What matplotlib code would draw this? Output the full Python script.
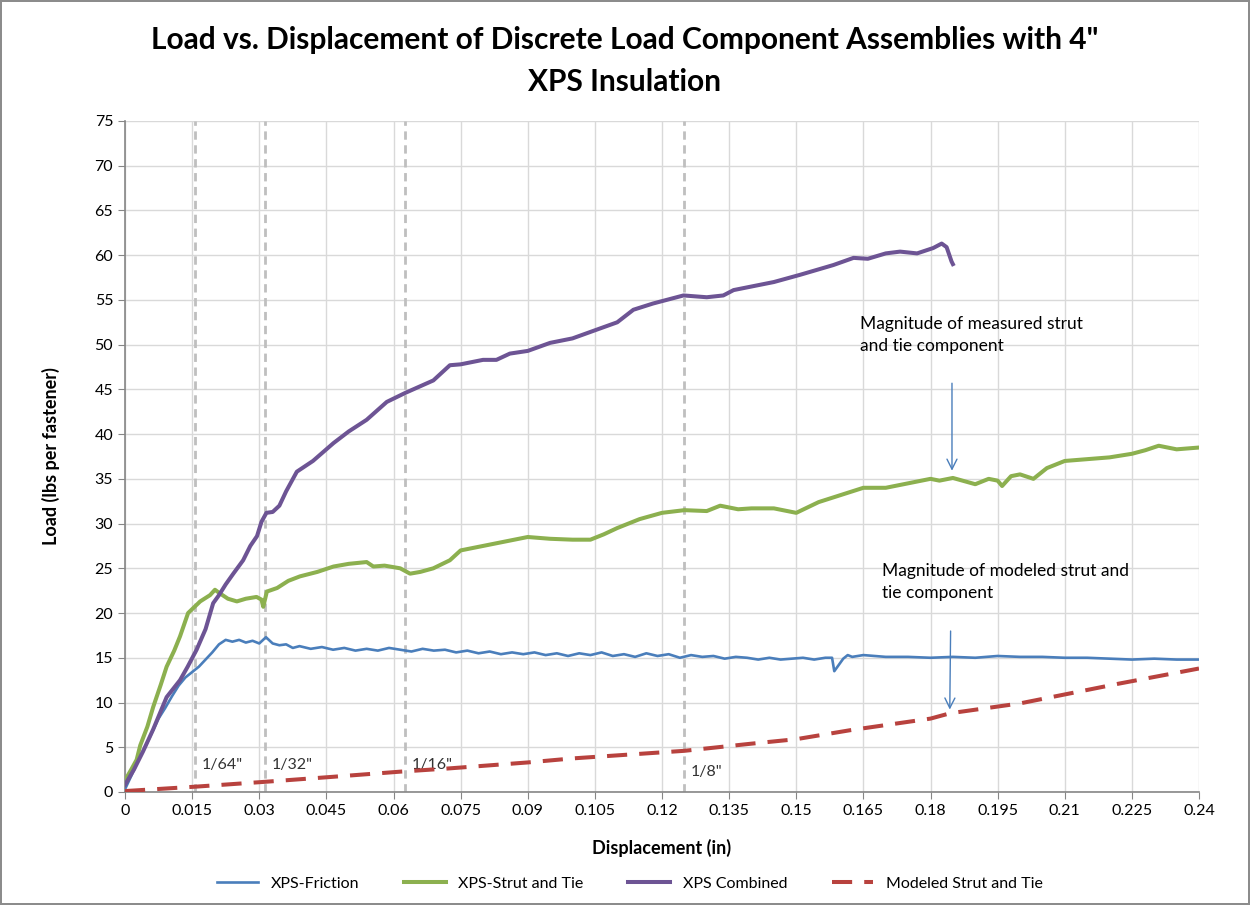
import matplotlib
matplotlib.use("Agg")
import matplotlib.pyplot as plt

plt.rcParams['font.family'] = ['Lato', 'DejaVu Sans']

# XPS-Friction
fric_x = [0, 0.0015, 0.003, 0.0045, 0.006, 0.0075, 0.009, 0.0105, 0.012, 0.0135,
          0.015, 0.0165, 0.018, 0.0195, 0.021, 0.0225, 0.024, 0.0255, 0.027, 0.0285,
          0.030, 0.0315, 0.033, 0.0345, 0.036, 0.0375, 0.039, 0.0415, 0.044, 0.0465,
          0.049, 0.0515, 0.054, 0.0565, 0.059, 0.0615, 0.064, 0.0665, 0.069, 0.0715,
          0.074, 0.0765, 0.079, 0.0815, 0.084, 0.0865, 0.089, 0.0915, 0.094, 0.0965,
          0.099, 0.1015, 0.104, 0.1065, 0.109, 0.1115, 0.114, 0.1165, 0.119, 0.1215,
          0.124, 0.1265, 0.129, 0.1315, 0.134, 0.1365, 0.139, 0.1415, 0.144, 0.1465,
          0.149, 0.1515, 0.154, 0.1565, 0.158, 0.1585, 0.1595, 0.1605, 0.1615, 0.1625,
          0.165, 0.17, 0.175, 0.18, 0.185, 0.19, 0.195, 0.2, 0.205, 0.21, 0.215, 0.22,
          0.225, 0.23, 0.235, 0.24]
fric_y = [0.3, 1.9, 3.6, 5.0, 6.6, 8.2, 9.4, 10.7, 11.9, 12.8,
          13.4, 14.0, 14.8, 15.6, 16.5, 17.0, 16.8, 17.0, 16.7, 16.9,
          16.6, 17.3, 16.6, 16.4, 16.5, 16.1, 16.3, 16.0, 16.2, 15.9,
          16.1, 15.8, 16.0, 15.8, 16.1, 15.9, 15.7, 16.0, 15.8, 15.9,
          15.6, 15.8, 15.5, 15.7, 15.4, 15.6, 15.4, 15.6, 15.3, 15.5,
          15.2, 15.5, 15.3, 15.6, 15.2, 15.4, 15.1, 15.5, 15.2, 15.4,
          15.0, 15.3, 15.1, 15.2, 14.9, 15.1, 15.0, 14.8, 15.0, 14.8,
          14.9, 15.0, 14.8, 15.0, 15.0, 13.5, 14.2, 14.9, 15.3, 15.1,
          15.3, 15.1, 15.1, 15.0, 15.1, 15.0, 15.2, 15.1, 15.1, 15.0, 15.0, 14.9,
          14.8, 14.9, 14.8, 14.8]

# XPS-Strut and Tie
strut_x = [0, 0.0015, 0.0026, 0.0034, 0.005, 0.0063, 0.008, 0.0093, 0.011, 0.0123,
           0.0141, 0.0168, 0.019, 0.0201, 0.0212, 0.023, 0.025, 0.027, 0.0294, 0.0305,
           0.0309, 0.0317, 0.034, 0.0365, 0.0391, 0.043, 0.0466, 0.05, 0.054, 0.0555,
           0.058, 0.0615, 0.0637, 0.066, 0.0689, 0.0726, 0.075, 0.08, 0.085, 0.09,
           0.095, 0.1, 0.104, 0.107, 0.11, 0.115, 0.12, 0.125, 0.13, 0.133,
           0.137, 0.14, 0.145, 0.15, 0.155, 0.16, 0.165, 0.17, 0.175, 0.18,
           0.182, 0.185, 0.19, 0.193, 0.195, 0.196, 0.198, 0.2, 0.203, 0.206,
           0.21, 0.215, 0.22, 0.225, 0.228, 0.231, 0.235, 0.24]
strut_y = [1.3, 2.6, 3.6, 5.2, 7.3, 9.5, 12.0, 14.0, 15.8, 17.4,
           20.0, 21.3, 22.0, 22.6, 22.2, 21.6, 21.3, 21.6, 21.8, 21.5,
           20.7, 22.4, 22.8, 23.6, 24.1, 24.6, 25.2, 25.5, 25.7, 25.2,
           25.3, 25.0, 24.4, 24.6, 25.0, 25.9, 27.0, 27.5, 28.0, 28.5,
           28.3, 28.2, 28.2, 28.8, 29.5, 30.5, 31.2, 31.5, 31.4, 32.0,
           31.6, 31.7, 31.7, 31.2, 32.4, 33.2, 34.0, 34.0, 34.5, 35.0,
           34.8, 35.1, 34.4, 35.0, 34.8, 34.2, 35.3, 35.5, 35.0, 36.2,
           37.0, 37.2, 37.4, 37.8, 38.2, 38.7, 38.3, 38.5]

# XPS Combined
comb_x = [0, 0.002, 0.004, 0.0063, 0.0093, 0.0123, 0.014, 0.016, 0.018, 0.0197,
          0.021, 0.0225, 0.0242, 0.0264, 0.028, 0.0295, 0.0305, 0.0316, 0.033, 0.0345,
          0.036, 0.0384, 0.042, 0.0466, 0.05, 0.054, 0.0585, 0.0626, 0.0689, 0.0726,
          0.075, 0.08, 0.083, 0.086, 0.09, 0.095, 0.1, 0.1061, 0.11, 0.1136,
          0.118, 0.1248, 0.13, 0.1337, 0.136, 0.14, 0.145, 0.1508, 0.1583, 0.1628,
          0.166, 0.17, 0.1732, 0.177, 0.1806, 0.1825, 0.1836, 0.1847, 0.185]
comb_y = [0.8, 2.5, 4.5, 7.0, 10.6, 12.5, 14.0, 15.9, 18.2, 21.1,
          22.0, 23.2, 24.4, 25.9, 27.5, 28.6, 30.2, 31.2, 31.3, 32.0,
          33.6, 35.8, 37.0, 39.0, 40.3, 41.6, 43.6, 44.6, 46.0, 47.7,
          47.8, 48.3, 48.3, 49.0, 49.3, 50.2, 50.7, 51.8, 52.5, 53.9,
          54.6, 55.5, 55.3, 55.5, 56.1, 56.5, 57.0, 57.8, 58.9, 59.7,
          59.6, 60.2, 60.4, 60.2, 60.8, 61.3, 60.9, 59.3, 59.0]

# Modeled Strut and Tie
model_x = [0, 0.016, 0.0317, 0.0466, 0.0615, 0.0726, 0.09, 0.1, 0.125, 0.14,
           0.15, 0.162, 0.18, 0.1844, 0.2, 0.222, 0.24]
model_y = [0.1, 0.6, 1.15, 1.7, 2.27, 2.64, 3.3, 3.75, 4.6, 5.4,
           5.9, 6.9, 8.2, 8.8, 9.9, 12.1, 13.8]

fraction_x = [1 / 64, 1 / 32, 1 / 16, 1 / 8]
fraction_labels = ['1/64"', '1/32"', '1/16"', '1/8"']
fraction_label_y = [3.0, 3.0, 3.0, 2.2]

x_ticks = [i * 0.015 for i in range(17)]
y_ticks = list(range(0, 80, 5))

fig = plt.figure(figsize=(12.5, 9.05), dpi=100)
fig.patch.set_edgecolor('#8c8c8c')
fig.patch.set_linewidth(1.5)
ax = fig.add_axes([0.1, 0.1249, 0.8592, 0.7414])

for xv, lab, ly in zip(fraction_x, fraction_labels, fraction_label_y):
    ax.axvline(xv, color='#bfbfbf', lw=2, ls=(0, (3, 2)), zorder=1)
    ax.text(xv + 0.0015, ly, lab, fontsize=11.5, color='#333333', va='center', zorder=2)

ax.plot(fric_x, fric_y, color='#4a7ebb', lw=1.9, label='XPS-Friction', zorder=3)
ax.plot(strut_x, strut_y, color='#8cb04f', lw=2.9, label='XPS-Strut and Tie', zorder=3)
ax.plot(comb_x, comb_y, color='#6d5494', lw=2.9, label='XPS Combined', zorder=4)
ax.plot(model_x, model_y, color='#b8423e', lw=2.9, ls=(0, (5, 3)),
        label='Modeled Strut and Tie', zorder=4)

ax.annotate('', xy=(0.1848, 35.6), xytext=(0.1848, 46.0),
            arrowprops=dict(arrowstyle='->', color='#4a7ebb', lw=1, mutation_scale=18))
ax.annotate('', xy=(0.1843, 8.9), xytext=(0.1845, 18.3),
            arrowprops=dict(arrowstyle='->', color='#4a7ebb', lw=1, mutation_scale=18))
ax.text(0.1642, 53.2, 'Magnitude of measured strut\nand tie component', fontsize=12.5,
        va='top', ha='left', linespacing=1.45)
ax.text(0.1692, 25.6, 'Magnitude of modeled strut and\ntie component', fontsize=12.5,
        va='top', ha='left', linespacing=1.45)

ax.set_xlim(0, 0.24)
ax.set_ylim(0, 75)
ax.set_xticks(x_ticks)
ax.set_xticklabels([f'{round(v, 3):g}' for v in x_ticks])
ax.set_yticks(y_ticks)
ax.grid(True, color='#d9d9d9', lw=1)
ax.set_axisbelow(True)
for s in ['top', 'right']:
    ax.spines[s].set_visible(False)
for s in ['left', 'bottom']:
    ax.spines[s].set_color('#868686')
    ax.spines[s].set_linewidth(1.2)
ax.tick_params(colors='#868686', labelcolor='black', labelsize=11.5, length=5)

ax.set_xlabel('Displacement (in)', fontsize=13, fontweight='bold', labelpad=15)
ax.set_ylabel('Load (lbs per fastener)', fontsize=13, fontweight='bold', labelpad=25)

fig.text(0.5, 1 - 61 / 905, 'Load vs. Displacement of Discrete Load Component Assemblies with 4"\nXPS Insulation',
         ha='center', va='center', fontsize=21.5, fontweight='bold', linespacing=1.6)

ax.legend(loc='upper center', bbox_to_anchor=(0.47, -0.105), ncol=4, frameon=False,
          fontsize=11.5, handlelength=2.6, columnspacing=2.8)

fig.savefig('out.png', dpi=100)
